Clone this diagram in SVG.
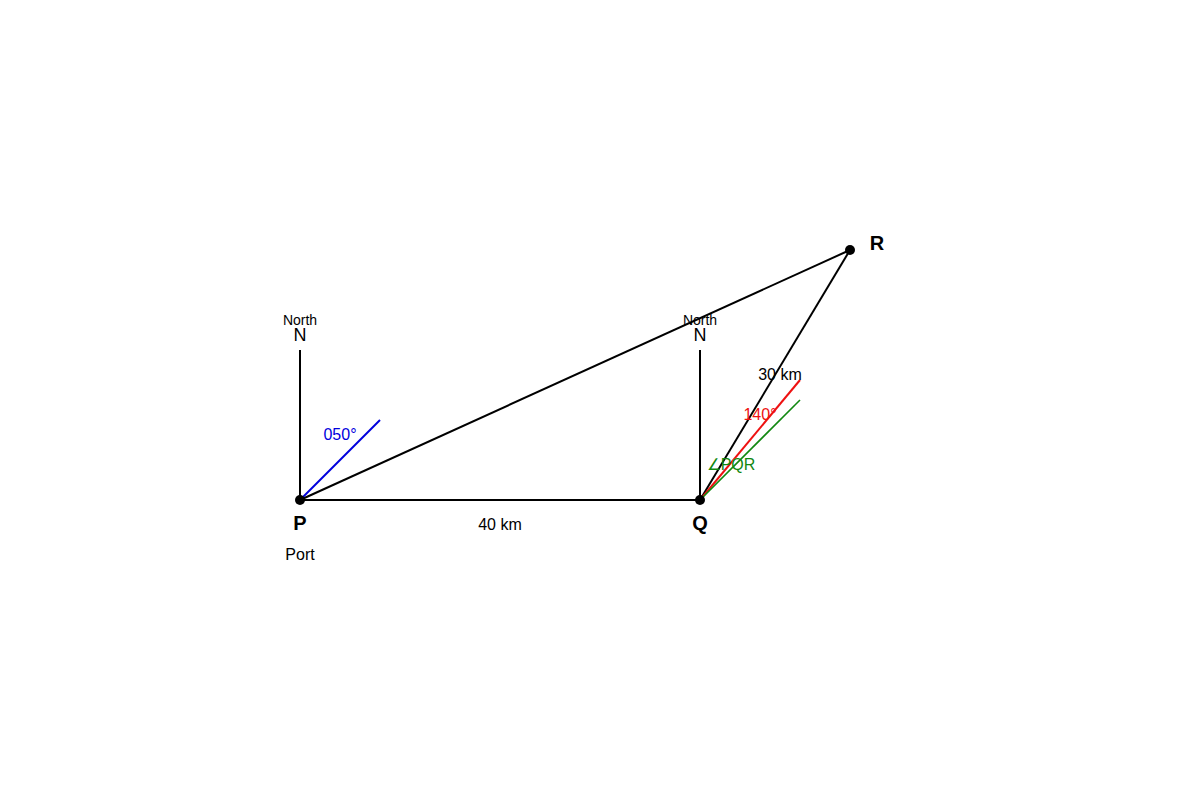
<svg xmlns="http://www.w3.org/2000/svg" width="1200" height="800" viewBox="0 0 1200 800">
<style>
text{font-family:"Liberation Sans",Arial,sans-serif;text-anchor:middle}
.ln{stroke:#000;stroke-width:2;fill:none}
.lbl{font-size:16px}
.pt{font-size:20px;font-weight:bold}
.nn{font-size:18px}
.north{font-size:14px}
</style>
<rect width="1200" height="800" fill="#fff"/>
<g id="connectors">
<line class="ln" x1="300" y1="500" x2="700" y2="500"/>
<line class="ln" x1="300" y1="500" x2="850" y2="250"/>
<line class="ln" x1="700" y1="500" x2="850" y2="250"/>
<line class="ln" x1="300" y1="500" x2="300" y2="350"/>
<line class="ln" x1="700" y1="500" x2="700" y2="350"/>
<line x1="300" y1="500" x2="380" y2="420" stroke="#0000dd" stroke-width="2"/>
<line x1="700" y1="500" x2="800" y2="380" stroke="#ee1111" stroke-width="2"/>
<line x1="700" y1="500" x2="800" y2="400" stroke="#118811" stroke-width="1.6"/>
</g>
<g id="P">
<circle cx="300" cy="500" r="5" fill="#000"/>
<text class="pt" x="300" y="530">P</text>
<text class="lbl" x="300" y="560">Port</text>
</g>
<g id="Q">
<circle cx="700" cy="500" r="5" fill="#000"/>
<text class="pt" x="700" y="530">Q</text>
</g>
<g id="R">
<circle cx="850" cy="250" r="5" fill="#000"/>
<text class="pt" x="877" y="250">R</text>
</g>
<g id="northP">
<text class="north" x="300" y="325">North</text>
<text class="nn" x="300" y="341">N</text>
</g>
<g id="northQ">
<text class="north" x="700" y="325">North</text>
<text class="nn" x="700" y="341">N</text>
</g>
<g id="labels">
<text class="lbl" x="340" y="440" fill="#0000dd">050°</text>
<text class="lbl" x="760" y="420" fill="#ee1111">140°</text>
<text class="lbl" x="731" y="470" fill="#118811">∠PQR</text>
<text class="lbl" x="780" y="380">30 km</text>
<text class="lbl" x="500" y="530">40 km</text>
</g>
</svg>
